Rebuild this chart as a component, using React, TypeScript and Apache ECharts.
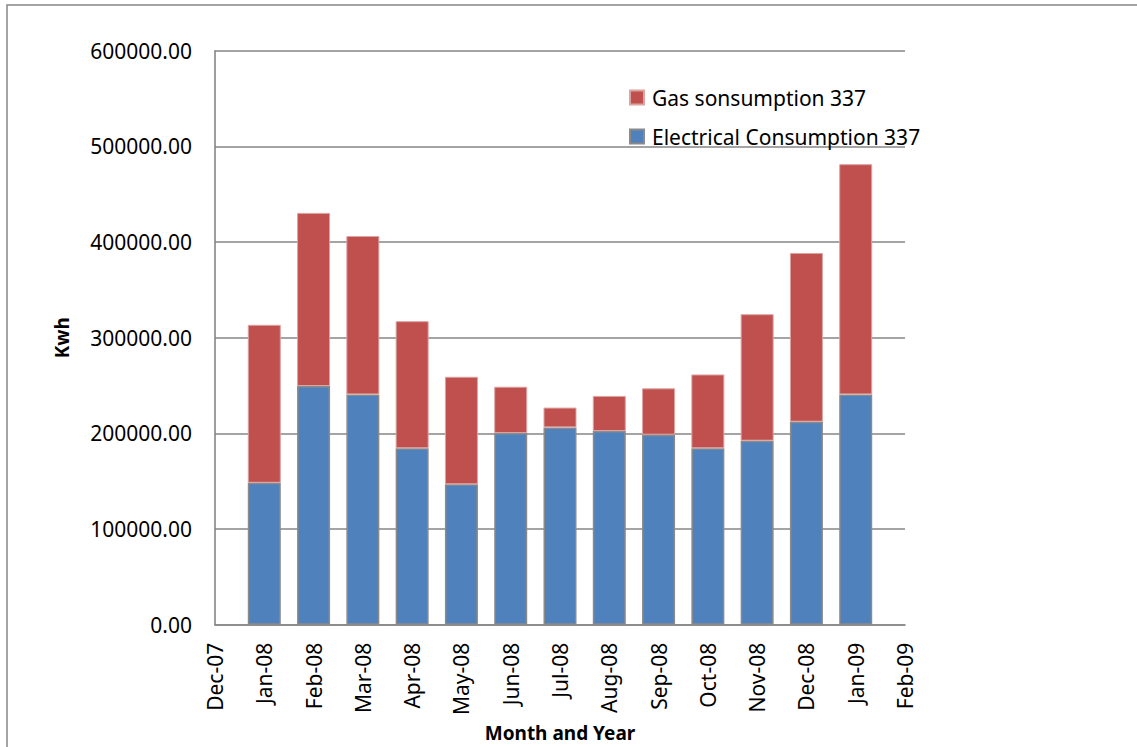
import React, { useEffect, useRef } from "react";
import * as echarts from "echarts";

// Monthly building 337 consumption, in kWh
const months = [
  "Dec-07", "Jan-08", "Feb-08", "Mar-08", "Apr-08", "May-08", "Jun-08", "Jul-08",
  "Aug-08", "Sep-08", "Oct-08", "Nov-08", "Dec-08", "Jan-09", "Feb-09",
];
const electrical = [
  null, 148400, 249500, 240800, 184500, 146800, 200400, 206300,
  202400, 198700, 184500, 192400, 212200, 240800, null,
];
const gas = [
  null, 165100, 181000, 165500, 132800, 112400, 48400, 20700,
  36800, 48400, 77100, 132200, 176400, 240600, null,
];
const yTicks = { min: 0, max: 600000, interval: 100000 };

const GAS_NAME = "Gas sonsumption 337";
const ELEC_NAME = "Electrical Consumption 337";
const FONT = "'Noto Sans', 'Open Sans', sans-serif";
const GREY = "#868686";

export default function App() {
  const ref = useRef<HTMLDivElement>(null);

  useEffect(() => {
    if (!ref.current) return;
    const chart = echarts.init(ref.current, null, { renderer: "svg" });
    chart.setOption({
      animation: false,
      backgroundColor: "#ffffff",
      textStyle: { fontFamily: FONT, color: "#000" },
      graphic: [
        {
          type: "rect",
          shape: { x: 7, y: 5, width: 1160, height: 780 },
          style: { fill: "none", stroke: GREY, lineWidth: 1.5 },
          silent: true,
        },
      ],
      grid: { left: 215, right: 232, top: 50.7, bottom: 118.3 },
      legend: {
        orient: "vertical",
        left: 629,
        top: 87,
        padding: 0,
        itemWidth: 14,
        itemHeight: 14,
        itemGap: 18,
        icon: "rect",
        data: [GAS_NAME, ELEC_NAME],
        textStyle: {
          fontFamily: FONT,
          fontSize: 21,
          color: "#000",
          lineHeight: 21,
          padding: [0, 0, 0, 3],
        },
      },
      xAxis: {
        type: "category",
        data: months,
        boundaryGap: false,
        name: "Month and Year",
        nameLocation: "middle",
        nameGap: 91,
        nameTextStyle: { fontFamily: FONT, fontSize: 19, fontWeight: "bold", color: "#000" },
        axisLine: { show: true, lineStyle: { color: GREY, width: 1.6 } },
        axisTick: { show: false },
        axisLabel: {
          rotate: 90,
          interval: 0,
          margin: 18,
          fontFamily: FONT,
          fontSize: 21,
          color: "#000",
        },
        splitLine: { show: false },
      },
      yAxis: {
        type: "value",
        min: yTicks.min,
        max: yTicks.max,
        interval: yTicks.interval,
        name: "Kwh",
        nameLocation: "middle",
        nameRotate: 90,
        nameGap: 144,
        nameTextStyle: { fontFamily: FONT, fontSize: 19, fontWeight: "bold", color: "#000" },
        axisLine: { show: true, lineStyle: { color: GREY, width: 1.6 } },
        axisTick: { show: false },
        axisLabel: {
          margin: 23,
          fontFamily: FONT,
          fontSize: 21,
          color: "#000",
          formatter: (v: number) => v.toFixed(2),
        },
        splitLine: { show: true, lineStyle: { color: GREY, width: 1.6 } },
      },
      series: [
        {
          name: ELEC_NAME,
          type: "bar",
          stack: "total",
          data: electrical,
          barWidth: 33,
          itemStyle: { color: "#4F81BD", borderColor: "#8a8a8a", borderWidth: 1.5 },
        },
        {
          name: GAS_NAME,
          type: "bar",
          stack: "total",
          data: gas,
          barWidth: 33,
          itemStyle: { color: "#C0504D", borderColor: "#dba3a2", borderWidth: 1 },
        },
      ],
    });
    return () => chart.dispose();
  }, []);

  return (
    <div
      ref={ref}
      style={{ position: "fixed", left: 0, top: 0, width: 1137, height: 747 }}
    />
  );
}
